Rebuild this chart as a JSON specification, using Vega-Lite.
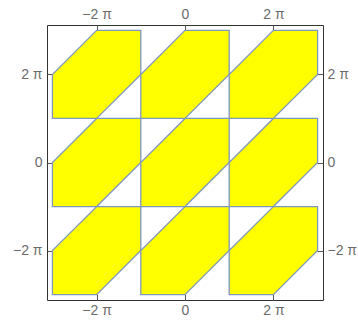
{
  "$schema": "https://vega.github.io/schema/vega-lite/v6.json",
  "autosize": "none",
  "width": 276,
  "height": 275,
  "padding": {"left": 47, "top": 25, "right": 35, "bottom": 24},
  "config": {
    "view": {"stroke": "#333333", "strokeWidth": 1},
    "axis": {
      "grid": false,
      "domain": false,
      "ticks": true,
      "tickColor": "#555555",
      "tickSize": -6,
      "labelColor": "#6b6b6b",
      "labelFont": "Liberation Sans",
      "title": null
    }
  },
  "data": {
    "values": [
      {"cell": "a", "x": -9.42478, "ylo": -9.42478, "yhi": -6.28319},
      {"cell": "a", "x": -6.28319, "ylo": -9.42478, "yhi": -3.14159},
      {"cell": "a", "x": -3.14159, "ylo": -6.28319, "yhi": -3.14159},
      {"cell": "b", "x": -3.14159, "ylo": -9.42478, "yhi": -6.28319},
      {"cell": "b", "x": 0, "ylo": -9.42478, "yhi": -3.14159},
      {"cell": "b", "x": 3.14159, "ylo": -6.28319, "yhi": -3.14159},
      {"cell": "c", "x": 3.14159, "ylo": -9.42478, "yhi": -6.28319},
      {"cell": "c", "x": 6.28319, "ylo": -9.42478, "yhi": -3.14159},
      {"cell": "c", "x": 9.42478, "ylo": -6.28319, "yhi": -3.14159},
      {"cell": "d", "x": -9.42478, "ylo": -3.14159, "yhi": 0},
      {"cell": "d", "x": -6.28319, "ylo": -3.14159, "yhi": 3.14159},
      {"cell": "d", "x": -3.14159, "ylo": 0, "yhi": 3.14159},
      {"cell": "e", "x": -3.14159, "ylo": -3.14159, "yhi": 0},
      {"cell": "e", "x": 0, "ylo": -3.14159, "yhi": 3.14159},
      {"cell": "e", "x": 3.14159, "ylo": 0, "yhi": 3.14159},
      {"cell": "f", "x": 3.14159, "ylo": -3.14159, "yhi": 0},
      {"cell": "f", "x": 6.28319, "ylo": -3.14159, "yhi": 3.14159},
      {"cell": "f", "x": 9.42478, "ylo": 0, "yhi": 3.14159},
      {"cell": "g", "x": -9.42478, "ylo": 3.14159, "yhi": 6.28319},
      {"cell": "g", "x": -6.28319, "ylo": 3.14159, "yhi": 9.42478},
      {"cell": "g", "x": -3.14159, "ylo": 6.28319, "yhi": 9.42478},
      {"cell": "h", "x": -3.14159, "ylo": 3.14159, "yhi": 6.28319},
      {"cell": "h", "x": 0, "ylo": 3.14159, "yhi": 9.42478},
      {"cell": "h", "x": 3.14159, "ylo": 6.28319, "yhi": 9.42478},
      {"cell": "i", "x": 3.14159, "ylo": 3.14159, "yhi": 6.28319},
      {"cell": "i", "x": 6.28319, "ylo": 3.14159, "yhi": 9.42478},
      {"cell": "i", "x": 9.42478, "ylo": 6.28319, "yhi": 9.42478}
    ]
  },
  "layer": [
    {
      "mark": {"type": "area", "fill": "#ffff00", "fillOpacity": 1, "stroke": "#7f97bd", "strokeWidth": 1.3, "strokeJoin": "miter", "clip": true},
      "encoding": {
        "x": {"field": "x", "type": "quantitative", "scale": {"domain": [-9.81, 9.81], "nice": false, "zero": false},
          "axis": {"orient": "bottom", "values": [-6.28319, 0, 6.28319], "labelPadding": 9, "labelFontSize": 14,
            "labelExpr": "datum.value < -1 ? '−2 π' : datum.value > 1 ? '2 π' : '0'"}},
        "y": {"field": "ylo", "type": "quantitative", "scale": {"domain": [-9.81, 9.81], "nice": false, "zero": false},
          "axis": {"orient": "left", "values": [-6.28319, 0, 6.28319], "labelPadding": 11, "labelFontSize": 14,
            "labelExpr": "datum.value < -1 ? '−2 π' : datum.value > 1 ? '2 π' : '0'"}},
        "y2": {"field": "yhi"},
        "detail": {"field": "cell", "type": "nominal"}
      }
    },
    {
      "mark": {"type": "area", "opacity": 0},
      "encoding": {
        "x": {"field": "x", "type": "quantitative", "scale": {"domain": [-9.81, 9.81], "nice": false, "zero": false},
          "axis": {"orient": "top", "values": [-6.28319, 0, 6.28319], "labelPadding": 10, "labelFontSize": 14,
            "labelExpr": "datum.value < -1 ? '−2 π' : datum.value > 1 ? '2 π' : '0'"}},
        "y": {"field": "ylo", "type": "quantitative", "scale": {"domain": [-9.81, 9.81], "nice": false, "zero": false},
          "axis": {"orient": "right", "values": [-6.28319, 0, 6.28319], "labelPadding": 10, "labelFontSize": 14,
            "labelExpr": "datum.value < -1 ? '−2 π' : datum.value > 1 ? '2 π' : '0'"}},
        "y2": {"field": "yhi"},
        "detail": {"field": "cell", "type": "nominal"}
      }
    }
  ],
  "resolve": {"axis": {"x": "independent", "y": "independent"}}
}
